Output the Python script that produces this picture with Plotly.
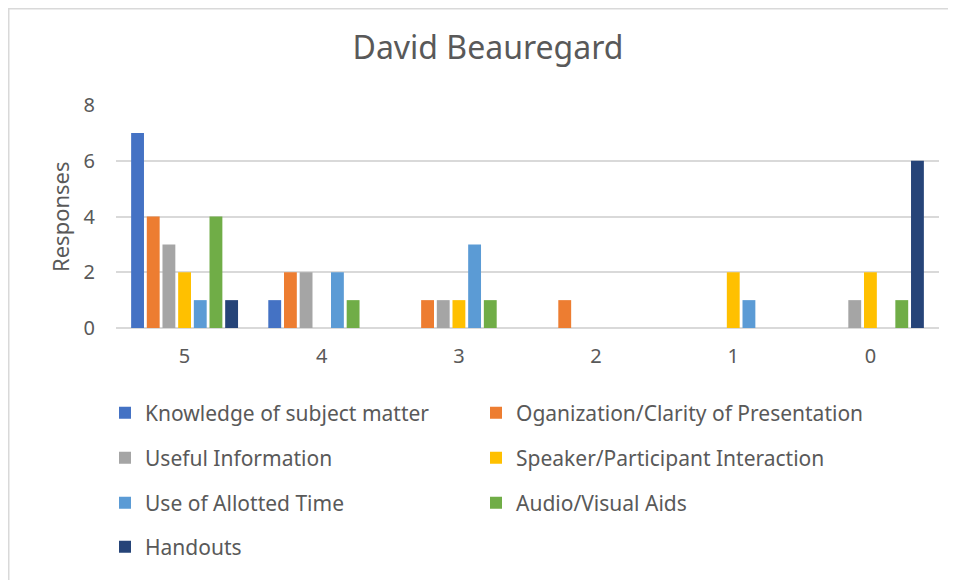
import plotly.graph_objects as go

categories = ["5", "4", "3", "2", "1", "0"]
series_names = [
    "Knowledge of subject matter",
    "Oganization/Clarity of Presentation",
    "Useful Information",
    "Speaker/Participant Interaction",
    "Use of Allotted Time",
    "Audio/Visual Aids",
    "Handouts",
]
knowledge = [7, 1, 0, 0, 0, 0]
organization = [4, 2, 1, 1, 0, 0]
useful = [3, 2, 1, 0, 0, 1]
speaker = [2, 0, 1, 0, 2, 2]
allotted = [1, 2, 3, 0, 1, 0]
audiovisual = [4, 1, 1, 0, 0, 1]
handouts = [1, 0, 0, 0, 0, 6]
y_ticks = [0, 2, 4, 6, 8]

values = [knowledge, organization, useful, speaker, allotted, audiovisual, handouts]
colors = ["#4472C4", "#ED7D31", "#A5A5A5", "#FFC000", "#5B9BD5", "#70AD47", "#264478"]

FONT = "Noto Sans"
GREY = "#595959"

# page body has an 8px margin, so figure coordinates = reference - 8
W, H = 948, 572
row_y = [405, 450, 495, 539]
col_x = [97, 468]

fig = go.Figure()
legends = {}
for i, (name, vals, col) in enumerate(zip(series_names, values, colors)):
    key = "legend" if i == 0 else f"legend{i + 1}"
    fig.add_trace(go.Bar(
        x=categories, y=vals, name=name,
        marker=dict(color=col, line=dict(width=0)),
        legend=key,
    ))
    legends[key] = dict(
        orientation="v", xref="container", yref="container",
        x=col_x[i % 2] / W, xanchor="left",
        y=1 - row_y[i // 2] / H, yanchor="middle",
        font=dict(family=FONT, size=21, color=GREY),
        bgcolor="rgba(0,0,0,0)", itemclick=False,
    )

fig.update_layout(
    width=W, height=H,
    margin=dict(l=108, r=17, t=97, b=252, autoexpand=False),
    paper_bgcolor="white", plot_bgcolor="white",
    barmode="group", bargap=0.2, bargroupgap=0.18,
    title=dict(text="David Beauregard", x=480 / W, xanchor="center", xref="container",
               y=1 - 40 / H, yanchor="middle", yref="container",
               font=dict(family=FONT, size=32, color=GREY)),
    xaxis=dict(type="category", showgrid=False, ticks="", showline=False,
               ticklabelstandoff=14,
               tickfont=dict(family=FONT, size=20, color=GREY)),
    yaxis=dict(range=[0, 8], tickvals=y_ticks, showgrid=True, gridcolor="#D9D9D9",
               gridwidth=1.5, zeroline=True, zerolinecolor="#D9D9D9", zerolinewidth=1.5,
               ticks="", ticklabelstandoff=20,
               tickfont=dict(family=FONT, size=20, color=GREY)),
    showlegend=True,
    **legends,
)

fig.add_annotation(text="Responses", textangle=-90, showarrow=False,
                   xref="paper", yref="paper",
                   x=(52 - 108) / (W - 125), y=(320 - 209) / (H - 349),
                   xanchor="center", yanchor="middle",
                   font=dict(family=FONT, size=22, color=GREY))

PW, PH = W - 108 - 17, H - 97 - 252
fig.add_shape(type="rect", xref="paper", yref="paper",
              x0=(0.75 - 108) / PW, x1=(W + 10 - 108) / PW,
              y0=(320 - (H + 10)) / PH, y1=(320 - 0.75) / PH,
              line=dict(color="#D9D9D9", width=1.5), layer="below")

fig.write_html("out.html")
